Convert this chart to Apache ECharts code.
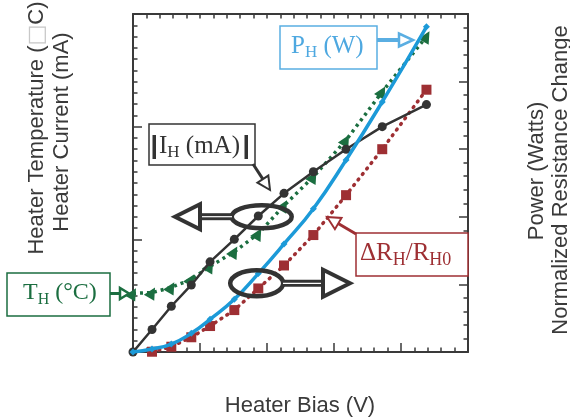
<!DOCTYPE html>
<html>
<head>
<meta charset="utf-8">
<script src="https://cdn.jsdelivr.net/npm/echarts@6/dist/echarts.min.js"></script>
<style>
html, body { margin: 0; padding: 0; background: #fff; }
#main { width: 570px; height: 420px; }
</style>
</head>
<body>
<div id="main"></div>
<script>
// values, in axis units (the original shows no tick labels)
var bias        = [0, 1.42, 2.86, 4.35, 5.75, 7.56, 9.35, 11.27, 13.46, 15.9, 18.6, 21.9];
var current     = [0, 2.0, 4.06, 5.95, 8.0, 10.0, 12.07, 14.08, 16.0, 18.0, 20.0, 21.96];
var temperature = [5.2, 5.27, 5.74, 6.45, 7.6, 8.9, 10.5, 13.0, 15.55, 18.8, 23.1, 28.0];
var power       = [0, 0.22, 0.59, 1.38, 2.42, 3.9, 5.8, 7.99, 10.6, 14.2, 18.5, 24.05];
var resistance  = [null, 0.02, 0.39, 1.09, 1.92, 3.1, 4.7, 6.4, 8.65, 11.6, 15.0, 19.4];

var BLACK = '#333333', GREEN = '#1b6e40', BLUE = '#1c9ad8', RED = '#9e2f33';
var SERIF = '"Liberation Serif", serif', SANS = '"Liberation Sans", Arial, sans-serif';

function pairs(ys) {
	return bias.map(function (x, i) { return [x, ys[i]]; });
}

// width of a piece of serif text, to lay out the subscripts
var meas = document.createElement('canvas').getContext('2d');
function textW(str, size) {
	meas.font = size + 'px ' + SERIF;
	return meas.measureText(str).width;
}

// label with subscripts: parts = [[text, isSub], ...]
function subLabel(parts, x, y, color, big, small) {
	var out = [];
	parts.forEach(function (p) {
		var size = p[1] ? small : big;
		out.push({
			type: 'text', z: 102, x: x, y: p[1] ? y + big * 0.28 : y,
			style: { text: p[0], fontSize: size, fontFamily: SERIF, fill: color, verticalAlign: 'middle' }
		});
		x += textW(p[0], size);
	});
	return out;
}

function box(x, y, w, h, color) {
	return { type: 'rect', z: 101, shape: { x: x, y: y, width: w, height: h },
		style: { fill: '#fff', stroke: color, lineWidth: 1.5 } };
}

// hollow headed arrow
function arrow(x1, y1, x2, y2, color, shaftW, headL, headW, lw, hollowShaft) {
	var dx = x2 - x1, dy = y2 - y1, len = Math.sqrt(dx * dx + dy * dy);
	var ux = dx / len, uy = dy / len;
	var bx = x2 - ux * headL, by = y2 - uy * headL;
	var px = -uy * headW / 2, py = ux * headW / 2;
	var out = [{ type: 'line', z: 101, shape: { x1: x1, y1: y1, x2: bx, y2: by },
		style: { stroke: color, lineWidth: shaftW } }];
	if (hollowShaft) {
		out.push({ type: 'line', z: 101, shape: { x1: x1, y1: y1, x2: bx, y2: by },
			style: { stroke: '#fff', lineWidth: 1.2 } });
	}
	out.push({ type: 'polygon', z: 102, shape: { points: [[x2, y2], [bx + px, by + py], [bx - px, by - py]] },
		style: { fill: '#fff', stroke: color, lineWidth: lw, lineJoin: 'miter' } });
	return out;
}

function vtitle(text, x, y, rich) {
	return { type: 'text', z: 50, x: x, y: y, rotation: Math.PI / 2,
		style: { text: text, fontSize: 22, fontFamily: SANS, fill: '#3a3a3a', align: 'center', verticalAlign: 'middle', rich: rich } };
}

var elements = [];
// axis titles
elements.push(vtitle('{a|Heater Temperature (}{b|□}{a|C)}', 37, 128, {
	a: { fontSize: 22, fontFamily: SANS, fill: '#3a3a3a' },
	b: { fontSize: 22, fontFamily: '"DejaVu Sans"', fill: '#c8c8c8' }
}));
elements.push(vtitle('Heater Current (mA)', 62, 132));
elements.push(vtitle('Power (Watts)', 537, 171));
elements.push(vtitle('Normalized Resistance Change', 561, 180));
elements.push({ type: 'text', z: 50, x: 300, y: 406,
	style: { text: 'Heater Bias (V)', fontSize: 22, fontFamily: SANS, fill: '#3a3a3a', align: 'center', verticalAlign: 'middle' } });

// P_H (W)
elements.push(box(280, 26, 97, 43, '#5aaee2'));
elements = elements.concat(subLabel([['P', 0], ['H', 1], [' (W)', 0]], 291, 46, '#4ea8e0', 25, 17));
elements = elements.concat(arrow(377, 40, 413, 40, '#5aaee2', 4, 14, 13, 2.5));

// |I_H (mA)|
elements.push(box(149, 124, 106, 41, BLACK));
elements.push({ type: 'rect', z: 102, shape: { x: 152.5, y: 135, width: 3.5, height: 24 }, style: { fill: BLACK } });
elements.push({ type: 'rect', z: 102, shape: { x: 244.5, y: 135, width: 3.5, height: 24 }, style: { fill: BLACK } });
elements = elements.concat(subLabel([['I', 0], ['H', 1], [' (mA)', 0]], 159, 146, BLACK, 25, 17));
elements = elements.concat(arrow(253, 164, 270, 190, BLACK, 3, 13, 13, 2));

// Delta R_H / R_H0
elements.push(box(356, 233, 112, 43, RED));
elements = elements.concat(subLabel([['\u0394R', 0], ['H', 1], ['/R', 0], ['H0', 1]], 360, 253, RED, 25, 18));
elements = elements.concat(arrow(356, 234, 327, 217, RED, 3, 13, 13, 2));

// T_H (°C)
elements.push(box(7, 273, 103, 43, GREEN));
elements = elements.concat(subLabel([['T', 0], ['H', 1], [' (\u00b0C)', 0]], 23, 293, GREEN, 24, 16));
elements = elements.concat(arrow(110, 293.5, 129, 293.5, GREEN, 3, 9, 11, 2.5));

// ellipses and the big axis arrows
elements.push({ type: 'ellipse', z: 101, shape: { cx: 261.7, cy: 216.7, rx: 30, ry: 11.5 },
	style: { fill: 'none', stroke: BLACK, lineWidth: 4.5 } });
elements = elements.concat(arrow(232, 216.7, 175, 216.7, BLACK, 7, 25, 25, 4, true));
elements.push({ type: 'ellipse', z: 101, shape: { cx: 256.7, cy: 283.3, rx: 26.5, ry: 13 },
	style: { fill: 'none', stroke: BLACK, lineWidth: 4.5 } });
elements = elements.concat(arrow(283, 283.3, 350, 283.3, BLACK, 7, 27, 27, 4, true));

var axisLine = { show: true, onZero: false, lineStyle: { color: '#3a3a3a', width: 2 } };
var tickStyle = { color: '#3a3a3a', width: 1.5 };

var option = {
	animation: false,
	backgroundColor: '#fff',
	grid: { left: 133, right: 102, top: 14, bottom: 68 },
	xAxis: [{
		type: 'value', position: 'bottom', min: 0, max: 25, interval: 5,
		axisLine: axisLine,
		axisTick: { inside: true, length: 9, lineStyle: tickStyle },
		minorTick: { show: true, splitNumber: 5, length: 4.5, lineStyle: tickStyle },
		axisLabel: { show: false }, splitLine: { show: false }
	}, {
		type: 'value', position: 'top', min: 0, max: 25, interval: 1,
		axisLine: axisLine,
		axisTick: { inside: true, length: 4.5, lineStyle: tickStyle },
		axisLabel: { show: false }, splitLine: { show: false }
	}],
	yAxis: [{
		type: 'value', position: 'left', min: 0, max: 30, interval: 10,
		axisLine: axisLine,
		axisTick: { inside: true, length: 9, lineStyle: tickStyle },
		minorTick: { show: true, splitNumber: 10, length: 4.5, lineStyle: tickStyle },
		axisLabel: { show: false }, splitLine: { show: false }
	}, {
		type: 'value', position: 'right', min: 0, max: 25, interval: 5,
		axisLine: axisLine,
		axisTick: { inside: true, length: 9, lineStyle: tickStyle },
		minorTick: { show: true, splitNumber: 5, length: 4.5, lineStyle: tickStyle },
		axisLabel: { show: false }, splitLine: { show: false }
	}],
	series: [{
		name: 'resistance', type: 'line', yAxisIndex: 1, data: pairs(resistance), z: 2,
		symbol: 'rect', symbolSize: 10,
		itemStyle: { color: RED },
		lineStyle: { color: RED, width: 3.5, type: [1, 6], cap: 'round' }
	}, {
		name: 'temperature', type: 'line', yAxisIndex: 0, data: pairs(temperature), z: 3,
		symbol: 'triangle', symbolSize: 12, symbolRotate: -30,
		itemStyle: { color: GREEN },
		lineStyle: { color: GREEN, width: 3.5, type: [3, 4] }
	}, {
		name: 'current', type: 'line', yAxisIndex: 0, data: pairs(current), z: 4,
		symbol: 'circle', symbolSize: 9,
		itemStyle: { color: BLACK },
		lineStyle: { color: BLACK, width: 2.5 }
	}, {
		name: 'power', type: 'line', yAxisIndex: 1, data: pairs(power), z: 5,
		smooth: true, symbol: 'diamond', symbolSize: 7,
		itemStyle: { color: BLUE },
		lineStyle: { color: BLUE, width: 3.5 }
	}],
	graphic: { elements: elements }
};

var chart = echarts.init(document.getElementById('main'));
chart.setOption(option);
</script>
</body>
</html>
